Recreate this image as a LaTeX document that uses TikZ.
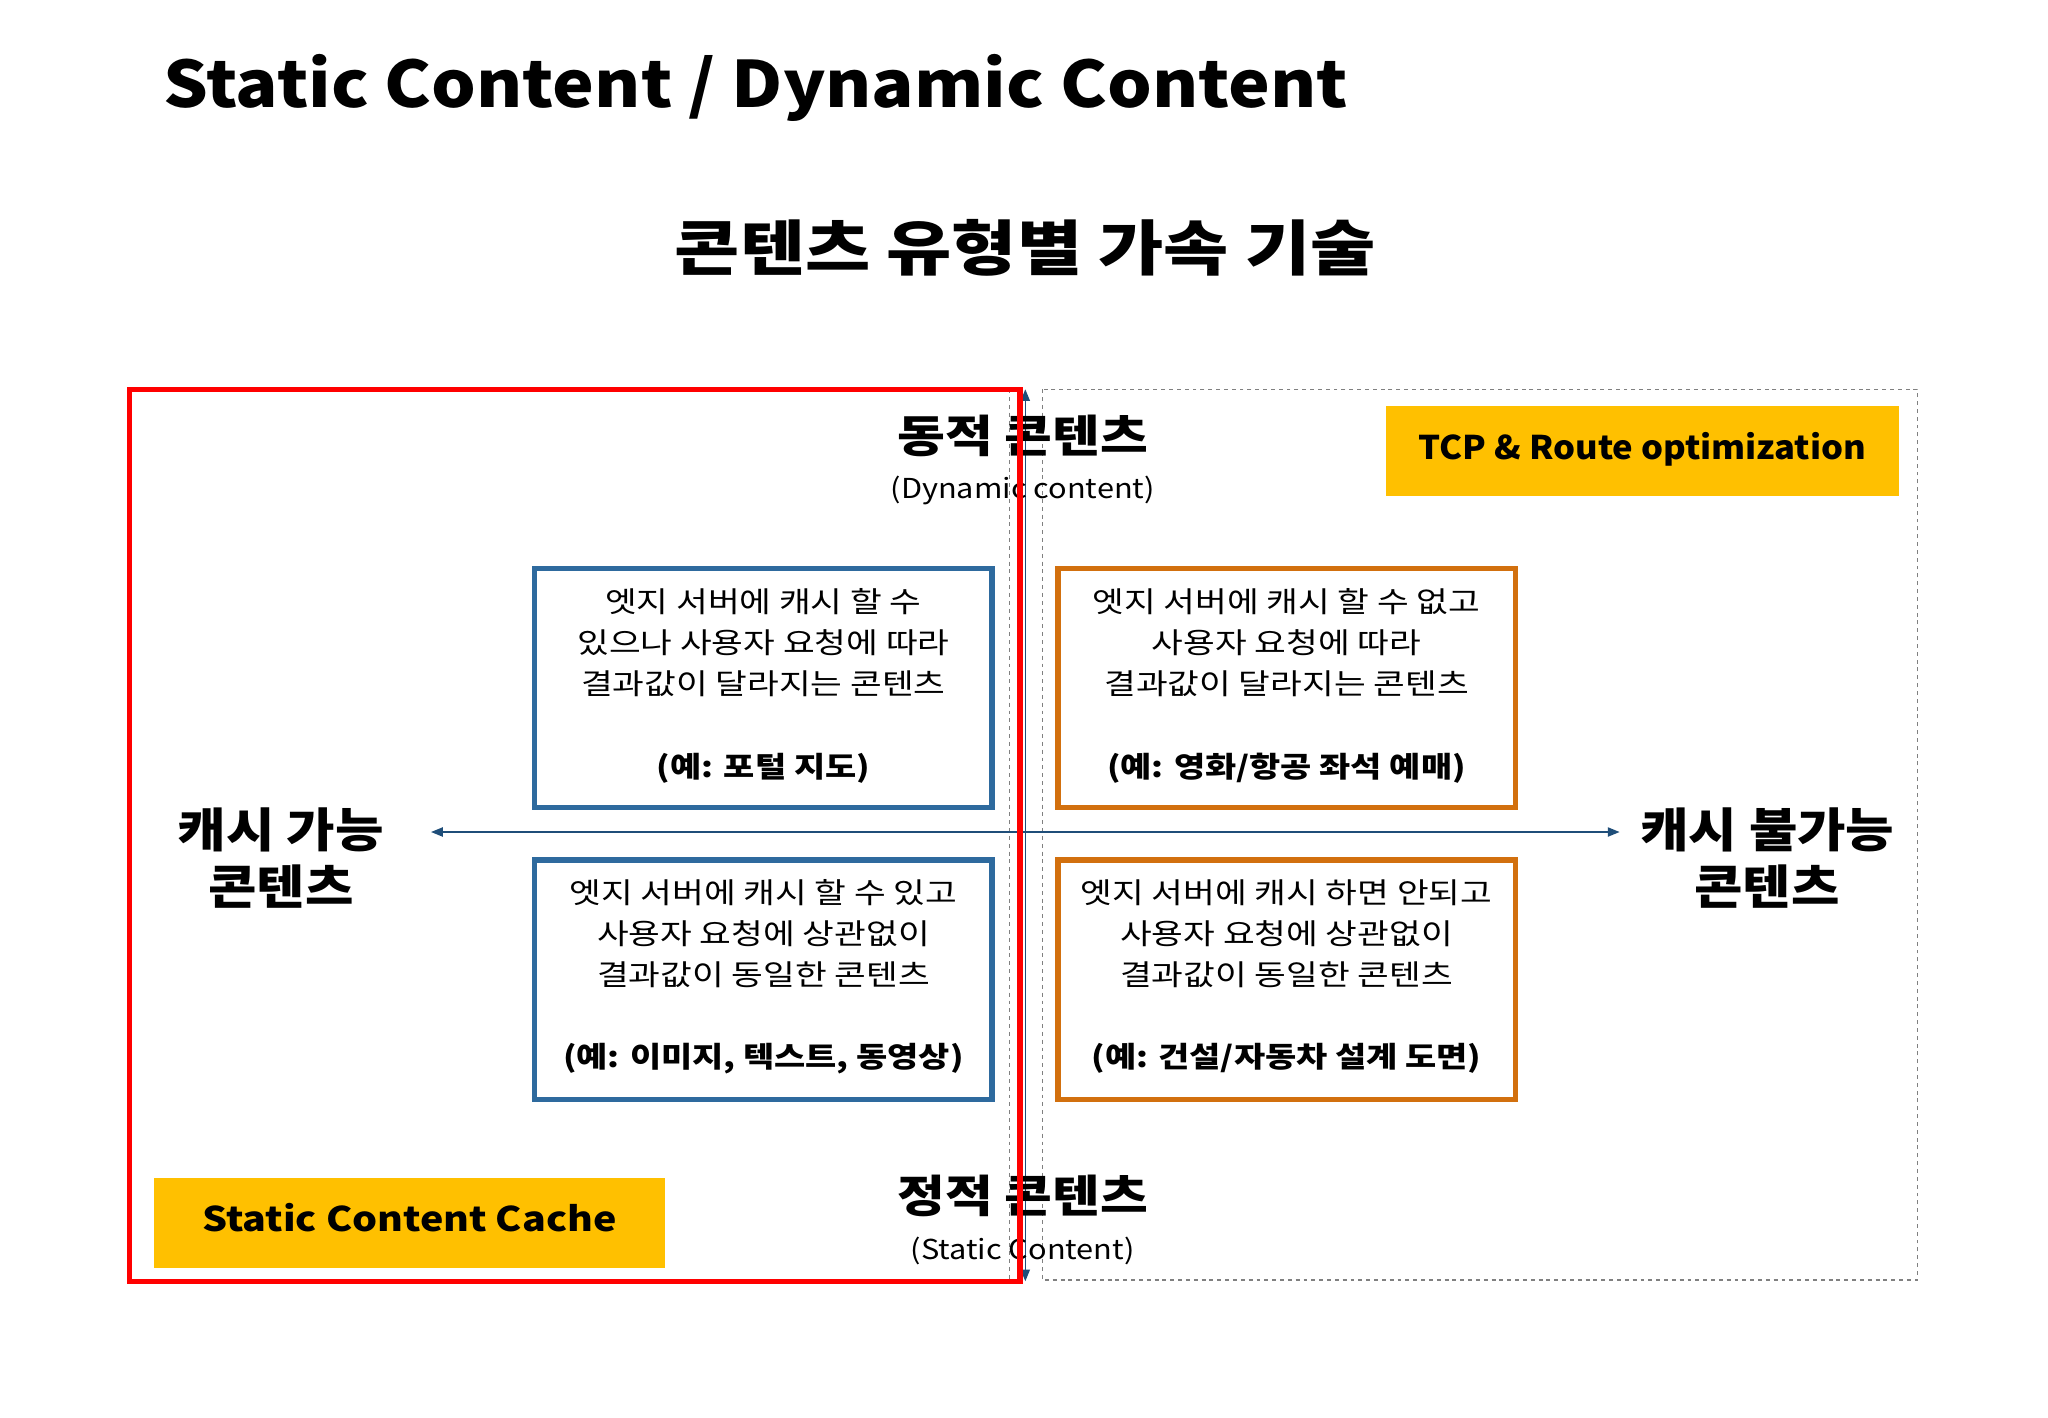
\documentclass[tikz,border=0pt]{standalone}
\usepackage{fontspec}
\usepackage{graphicx}
\setmainfont{Noto Sans CJK KR}
\usetikzlibrary{arrows.meta}
\definecolor{bbox}{HTML}{2E6A9E}
\definecolor{obox}{HTML}{D2700E}
\definecolor{ybox}{HTML}{FFC000}
\definecolor{axis}{HTML}{1F4E79}
\newcommand\sxt[2]{\scalebox{#1}[1]{\begin{tabular}{@{}c@{}}#2\end{tabular}}}
\begin{document}
\begin{tikzpicture}[x=1pt,y=-1pt,
 qbox/.style={line width=4pt,minimum width=350pt,minimum height=183pt,inner sep=0pt},
 btxt/.style={inner sep=0pt,font=\fontsize{22}{31.5}\selectfont},
 bbold/.style={inner sep=0pt,font=\bfseries\fontsize{22}{26}\selectfont},
 ytag/.style={fill=ybox,minimum height=69pt},
 big/.style={inner sep=0pt,font=\bfseries\fontsize{34}{42}\selectfont},
 sub/.style={inner sep=0pt,font=\fontsize{21}{24}\selectfont}]
\useasboundingbox (0,0) rectangle (1568,1085);
\fill[white] (0,0) rectangle (1568,1085);
\node[anchor=west,inner sep=0pt,font=\bfseries\fontsize{49}{54}\selectfont] (title) at (125,70) {\sxt{1.1}{Static Content / Dynamic Content}};
\node[inner sep=0pt,font=\bfseries\fontsize{46}{50}\selectfont] (sub) at (785,195) {\sxt{1.18}{콘텐츠 유형별 가속 기술}};
% dashed frames
\draw[gray,dashed,line width=1pt] (798,298) rectangle (1468,980);
\coordinate (dt) at (773,298); \coordinate (db) at (773,980);
\draw[gray,dashed,line width=1pt] (dt) -- (db);
% axes
\coordinate (vt) at (785,298); \coordinate (vb) at (785,981);
\coordinate (hl) at (330,637); \coordinate (hr) at (1240,637);
\draw[axis,line width=1.2pt,{Triangle[length=9pt,width=7pt]}-{Triangle[length=9pt,width=7pt]}] (vb) -- (vt);
\draw[axis,line width=1.2pt,{Triangle[length=9pt,width=7pt]}-{Triangle[length=9pt,width=7pt]}] (hl) -- (hr);
% boxes
\node[qbox,draw=bbox] (q1) at (584.5,527) {};
\node[qbox,draw=obox] (q2) at (985,527) {};
\node[qbox,draw=bbox] (q3) at (584.5,750) {};
\node[qbox,draw=obox] (q4) at (985,750) {};
\node[btxt] at (584.5,494) {\sxt{1.2}{엣지 서버에 캐시 할 수\\있으나 사용자 요청에 따라\\결과값이 달라지는 콘텐츠}};
\node[bbold] at (584.5,590) {\sxt{1.18}{(예: 포털 지도)}};
\node[btxt] at (985,494) {\sxt{1.2}{엣지 서버에 캐시 할 수 없고\\사용자 요청에 따라\\결과값이 달라지는 콘텐츠}};
\node[bbold] at (985,590) {\sxt{1.18}{(예: 영화/항공 좌석 예매)}};
\node[btxt] at (584.5,717) {\sxt{1.2}{엣지 서버에 캐시 할 수 있고\\사용자 요청에 상관없이\\결과값이 동일한 콘텐츠}};
\node[bbold] at (584.5,812) {\sxt{1.18}{(예: 이미지, 텍스트, 동영상)}};
\node[btxt] at (985,717) {\sxt{1.2}{엣지 서버에 캐시 하면 안되고\\사용자 요청에 상관없이\\결과값이 동일한 콘텐츠}};
\node[bbold] at (985,812) {\sxt{1.18}{(예: 건설/자동차 설계 도면)}};
% axis labels
\node[big] (dyn) at (783,338) {\sxt{1.17}{동적 콘텐츠}};
\node[sub] (dyns) at (783,377) {\sxt{1.12}{(Dynamic content)}};
\node[big] (sta) at (783,920) {\sxt{1.17}{정적 콘텐츠}};
\node[sub] (stas) at (783,959) {\sxt{1.12}{(Static Content)}};
\node[big,font=\bfseries\fontsize{36}{44}\selectfont] (cl) at (215,662) {\sxt{1.12}{캐시 가능\\콘텐츠}};
\node[big,font=\bfseries\fontsize{36}{44}\selectfont] (cr) at (1353,662) {\sxt{1.12}{캐시 불가능\\콘텐츠}};
% tags
\node[ytag,minimum width=393pt,font=\bfseries\fontsize{25}{28}\selectfont] (tcp) at (1257.5,345.5) {\sxt{1.06}{TCP \& Route optimization}};
\node[ytag,minimum width=391pt,font=\bfseries\fontsize{26}{28}\selectfont] (scc) at (313.5,936.5) {\sxt{1.16}{Static Content Cache}};
% red frame
\draw[red,line width=4pt] (99,298) rectangle (781,981);
\end{tikzpicture}
\end{document}
